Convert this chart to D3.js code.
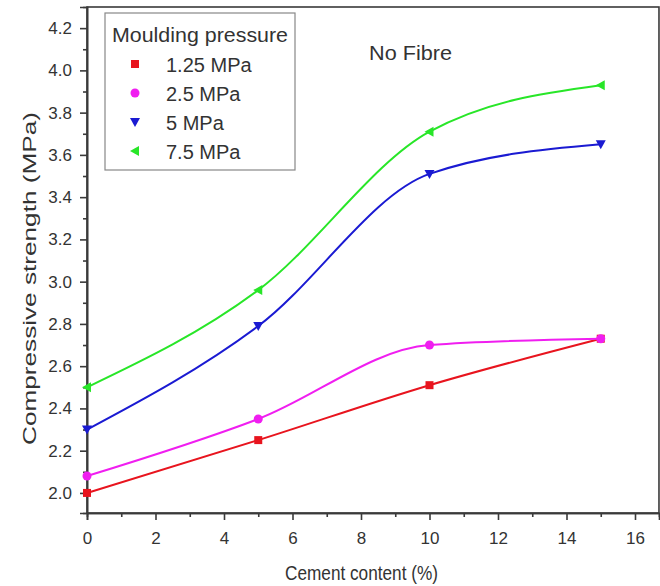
<!DOCTYPE html>
<html>
<head>
<meta charset="utf-8">
<script src="https://cdn.jsdelivr.net/npm/d3@7"></script>
<style>
  body { margin: 0; background: #fff; }
  text { font-family: "Liberation Sans", Arial, sans-serif; fill: #333; }
</style>
</head>
<body>
<div id="chart"></div>
<script>
// cement content (%)
const cement = [0, 5, 10, 15]
const seriesNames = ["1.25 MPa", "2.5 MPa", "5 MPa", "7.5 MPa"]
const p125 = [2.00, 2.25, 2.51, 2.73]
const p25 = [2.08, 2.35, 2.70, 2.73]
const p5 = [2.30, 2.79, 3.51, 3.65]
const p75 = [2.50, 2.96, 3.71, 3.93]
const xTicks = [0, 2, 4, 6, 8, 10, 12, 14, 16]
const yTicks = [2.0, 2.2, 2.4, 2.6, 2.8, 3.0, 3.2, 3.4, 3.6, 3.8, 4.0, 4.2]

const colors = ["#e8141e", "#f01ef0", "#1a1ad2", "#28e628"]
const symbols = ["square", "circle", "down", "left"]

const width = 660, height = 586
const margin = { left: 87, top: 7, right: 0, bottom: 73 }

const svg = d3.select("#chart").append("svg")
    .attr("width", width)
    .attr("height", height)

const x = d3.scaleLinear().domain([0, 16.7]).range([margin.left, margin.left + 16.7 * 34.25])
const y = d3.scaleLinear().domain([1.905, 4.3]).range([height - margin.bottom, margin.top])

// frame
svg.append("rect")
    .attr("x", x(0)).attr("y", y(4.3))
    .attr("width", x(16.7) - x(0)).attr("height", y(1.905) - y(4.3))
    .attr("fill", "none").attr("stroke", "#3a3a3a").attr("stroke-width", 1.6)

// axes
svg.append("g")
    .attr("transform", "translate(0," + y(1.905) + ")")
    .call(d3.axisBottom(x).tickValues(xTicks).tickFormat(d3.format("d")).tickSize(7).tickPadding(12))
svg.append("g")
    .attr("transform", "translate(0," + y(1.905) + ")")
    .call(d3.axisBottom(x).tickValues(d3.range(1, 16, 2)).tickFormat("").tickSize(4))
svg.append("g")
    .attr("transform", "translate(" + x(0) + ",0)")
    .call(d3.axisLeft(y).tickValues(yTicks).tickFormat(d3.format(".1f")).tickSize(7).tickPadding(8))
svg.append("g")
    .attr("transform", "translate(" + x(0) + ",0)")
    .call(d3.axisLeft(y).tickValues(d3.range(2.1, 4.3, 0.2).map(v => +v.toFixed(1))).tickFormat("").tickSize(4))

svg.selectAll(".domain").attr("stroke", "#3a3a3a").attr("stroke-width", 1.6)
svg.selectAll(".tick line").attr("stroke", "#3a3a3a").attr("stroke-width", 1.6)
svg.selectAll(".tick text").attr("font-size", 17).attr("fill", "#333")
    .attr("font-family", "Liberation Sans, Arial, sans-serif")

// axis titles
svg.append("text")
    .attr("x", 285).attr("y", 580)
    .attr("font-size", 21)
    .attr("textLength", 153).attr("lengthAdjust", "spacingAndGlyphs")
    .text("Cement content (%)")
svg.append("text")
    .attr("transform", "translate(36,445) rotate(-90)")
    .attr("font-size", 18)
    .attr("textLength", 333).attr("lengthAdjust", "spacingAndGlyphs")
    .text("Compressive strength (MPa)")

svg.append("text")
    .attr("x", 369).attr("y", 60)
    .attr("font-size", 21)
    .attr("textLength", 83).attr("lengthAdjust", "spacingAndGlyphs")
    .text("No Fibre")

// lines + markers
const allSeries = [p125, p25, p5, p75]
const line = d3.line()
    .x((d, i) => x(cement[i]))
    .y(d => y(d))
    .curve(d3.curveMonotoneX)

function marker(g, type, color, s) {
    if (type == "square") {
        g.append("rect").attr("x", -s / 2).attr("y", -s / 2).attr("width", s).attr("height", s).attr("fill", color)
    } else if (type == "circle") {
        g.append("circle").attr("r", s / 2 + 0.5).attr("fill", color)
    } else if (type == "down") {
        g.append("path").attr("d", `M${-s / 2 - 1},${-s / 2} L${s / 2 + 1},${-s / 2} L0,${s / 2 + 1} Z`).attr("fill", color)
    } else {
        g.append("path").attr("d", `M${s / 2},${-s / 2 - 1} L${s / 2},${s / 2 + 1} L${-s / 2 - 1},0 Z`).attr("fill", color)
    }
}

allSeries.forEach((vals, k) => {
    svg.append("path")
        .datum(vals)
        .attr("d", line)
        .attr("fill", "none")
        .attr("stroke", colors[k])
        .attr("stroke-width", 2)
    vals.forEach((v, i) => {
        const g = svg.append("g").attr("transform", "translate(" + x(cement[i]) + "," + y(v) + ")")
        marker(g, symbols[k], colors[k], 8)
    })
})

// legend
const legend = svg.append("g")
legend.append("rect")
    .attr("x", 105).attr("y", 13).attr("width", 190).attr("height", 157)
    .attr("fill", "#fff").attr("stroke", "#888").attr("stroke-width", 1.2)
legend.append("text")
    .attr("x", 112).attr("y", 42)
    .attr("font-size", 21)
    .attr("textLength", 176).attr("lengthAdjust", "spacingAndGlyphs")
    .text("Moulding pressure")
seriesNames.forEach((name, k) => {
    const base = 72 + k * 29
    const g = legend.append("g").attr("transform", "translate(135," + (base - 8) + ")")
    marker(g, symbols[k], colors[k], 8)
    legend.append("text")
        .attr("x", 166).attr("y", base)
        .attr("font-size", 20)
        .text(name)
})
</script>
</body>
</html>
